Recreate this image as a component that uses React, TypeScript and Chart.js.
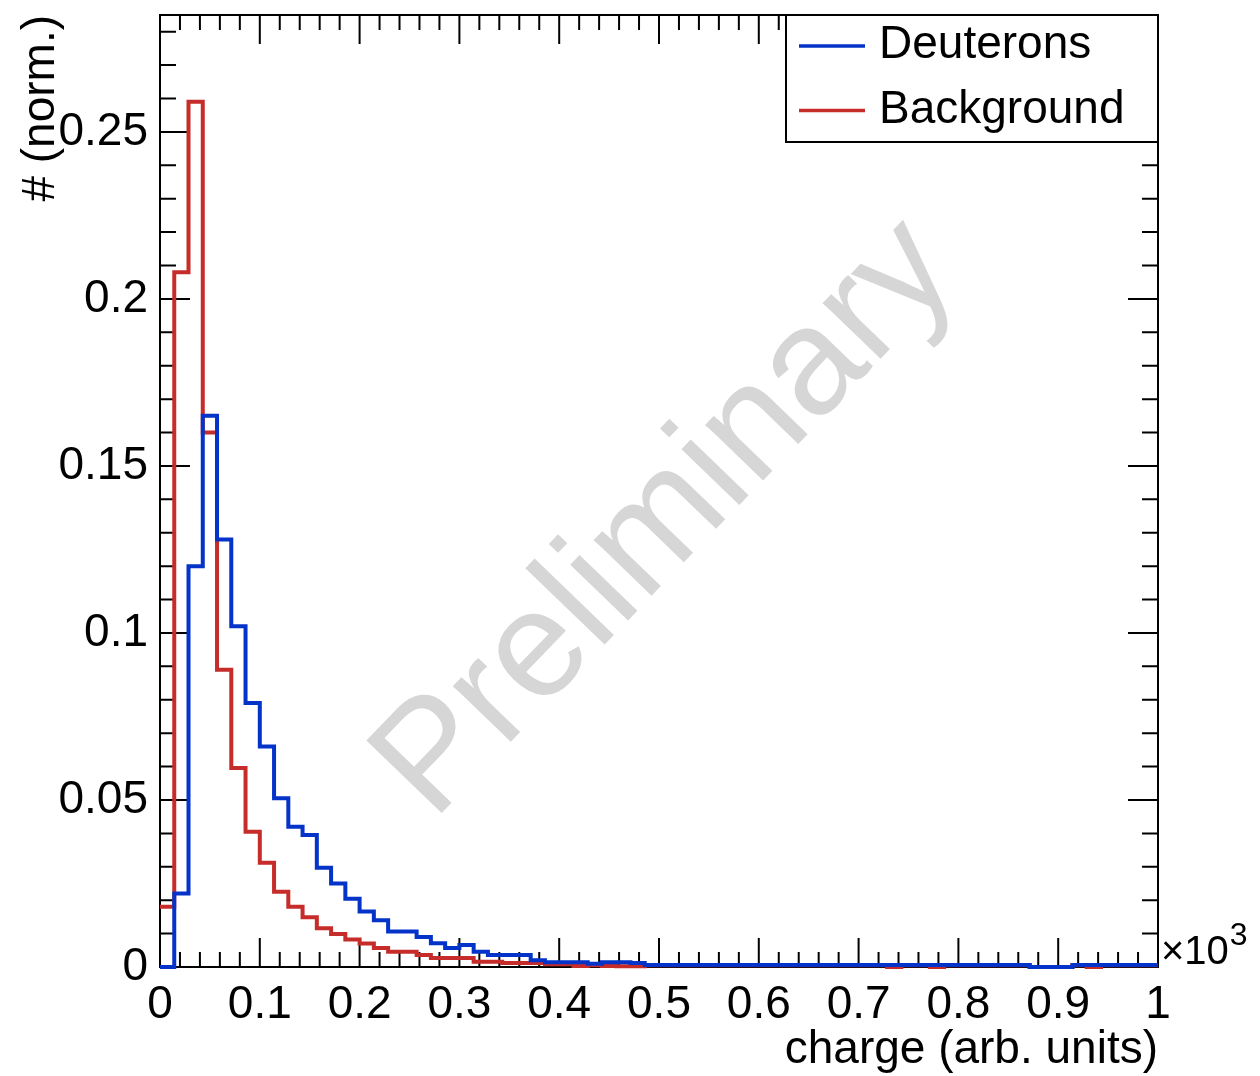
import React, { useEffect, useRef } from 'react';
import { Chart, registerables } from 'chart.js';

Chart.register(...registerables);

// ---------- data ----------
const BIN_COUNT = 70;
const X_MIN = 0;
const X_MAX = 1;
const Y_MAX = 0.285;
const X_MINOR_STEP = 0.02;
const Y_MINOR_STEP = 0.01;

const seriesLabels = ['Deuterons', 'Background'];

const deuteronValues = [
  0, 0.022, 0.12, 0.165, 0.128, 0.102, 0.079, 0.066, 0.0505, 0.042,
  0.0395, 0.0297, 0.025, 0.0204, 0.0166, 0.014, 0.0106, 0.0106, 0.009, 0.0071,
  0.0057, 0.0066, 0.0046, 0.0036, 0.0036, 0.0036, 0.002, 0.0014, 0.0014, 0.0014,
  0.001, 0.0014, 0.0014, 0.0012, 0.0006, 0.0006, 0.0006, 0.0006, 0.0006, 0.0006,
  0.0006, 0.0006, 0.0006, 0.0006, 0.0006, 0.0006, 0.0006, 0.0006, 0.0006, 0.0006,
  0.0006, 0.0006, 0.0006, 0.0006, 0.0006, 0.0006, 0.0006, 0.0006, 0.0006, 0.0006,
  0.0006, 0, 0, 0, 0.0006, 0.0006, 0.0006, 0.0006, 0.0006, 0.0006,
];

const backgroundValues = [
  0.018, 0.208, 0.259, 0.16, 0.089, 0.0596, 0.0405, 0.0312, 0.0225, 0.018,
  0.0149, 0.0116, 0.0099, 0.0082, 0.007, 0.0057, 0.0046, 0.0046, 0.0036, 0.0027,
  0.0027, 0.0027, 0.0016, 0.0016, 0.0012, 0.0012, 0.0012, 0.0008, 0.0008, 0.0003,
  0.0005, 0.0003, 0.0002, 0.0002, 0.0005, 0.0005, 0.0005, 0.0005, 0.0005, 0.0005,
  0.0005, 0.0005, 0.0005, 0.0005, 0.0005, 0.0005, 0.0005, 0.0005, 0.0005, 0.0005,
  0.0005, 0, 0.0005, 0.0005, 0, 0.0005, 0.0005, 0.0005, 0.0005, 0.0005,
  0.0005, 0, 0, 0, 0.0005, 0, 0.0005, 0.0005, 0.0005, 0.0005,
];

const xTickValues = [0, 0.1, 0.2, 0.3, 0.4, 0.5, 0.6, 0.7, 0.8, 0.9, 1];
const xTickLabels = ['0', '0.1', '0.2', '0.3', '0.4', '0.5', '0.6', '0.7', '0.8', '0.9', '1'];
const yTickValues = [0, 0.05, 0.1, 0.15, 0.2, 0.25];
const yTickLabels = ['0', '0.05', '0.1', '0.15', '0.2', '0.25'];

const xTitle = 'charge (arb. units)';
const yTitle = '# (norm.)';
const watermark = 'Preliminary';
const xExponentBase = '\u00d710';
const xExponent = '3';

// ---------- style ----------
const FONT = '"Liberation Sans", Arial, Helvetica, sans-serif';
const BLUE = '#0433c9';
const RED = '#c62d2a';

const binWidth = (X_MAX - X_MIN) / BIN_COUNT;
const toSteps = (vals: number[]) => {
  const pts = vals.map((v, i) => ({ x: X_MIN + i * binWidth, y: v }));
  pts.push({ x: X_MAX, y: vals[vals.length - 1] });
  return pts;
};

const framePlugin = {
  id: 'rootFrame',
  beforeDatasetsDraw(chart: any) {
    const { ctx, chartArea, scales } = chart;
    const { left, right, top, bottom } = chartArea;
    const x = scales.x;
    const y = scales.y;
    ctx.save();
    ctx.strokeStyle = '#000';
    ctx.lineWidth = 2;
    ctx.strokeRect(left, top, right - left, bottom - top);
    ctx.beginPath();
    const nx = Math.round((X_MAX - X_MIN) / X_MINOR_STEP);
    for (let i = 0; i <= nx; i++) {
      const px = x.getPixelForValue(X_MIN + i * X_MINOR_STEP);
      const len = i % 5 === 0 ? 29 : 15;
      ctx.moveTo(px, bottom);
      ctx.lineTo(px, bottom - len);
      ctx.moveTo(px, top);
      ctx.lineTo(px, top + len);
    }
    const ny = Math.floor(Y_MAX / Y_MINOR_STEP + 1e-6);
    for (let i = 0; i <= ny; i++) {
      const py = y.getPixelForValue(i * Y_MINOR_STEP);
      const len = i % 5 === 0 ? 30 : 16;
      ctx.moveTo(left, py);
      ctx.lineTo(left + len, py);
      ctx.moveTo(right, py);
      ctx.lineTo(right - len, py);
    }
    ctx.stroke();
    ctx.restore();
  },
  afterDatasetsDraw(chart: any) {
    const { ctx, chartArea, data } = chart;
    const { left, right, top, bottom } = chartArea;
    ctx.save();
    // watermark
    ctx.save();
    ctx.translate(left + (right - left) * 0.508, top + (bottom - top) * 0.53);
    ctx.rotate((-46 * Math.PI) / 180);
    ctx.font = `152px ${FONT}`;
    ctx.fillStyle = '#d6d6d6';
    ctx.textAlign = 'center';
    ctx.textBaseline = 'middle';
    ctx.fillText(watermark, 0, 0);
    ctx.restore();

    // x10^3
    ctx.fillStyle = '#000';
    ctx.textAlign = 'left';
    ctx.textBaseline = 'alphabetic';
    ctx.font = `40px ${FONT}`;
    ctx.fillText(xExponentBase, right + 3, bottom - 3);
    const w = ctx.measureText(xExponentBase).width;
    ctx.font = `32px ${FONT}`;
    ctx.fillText(xExponent, right + 3 + w + 1, bottom - 22);

    // legend
    const bw = 372;
    const bh = 127;
    const bx = right - bw;
    const by = top;
    ctx.fillStyle = '#fff';
    ctx.fillRect(bx, by, bw, bh);
    ctx.strokeStyle = '#000';
    ctx.lineWidth = 2;
    ctx.strokeRect(bx, by, bw, bh);
    data.datasets.forEach((ds: any, i: number) => {
      const ly = by + 31 + i * 64.5;
      ctx.strokeStyle = ds.borderColor;
      ctx.lineWidth = 3.5;
      ctx.beginPath();
      ctx.moveTo(bx + 13, ly);
      ctx.lineTo(bx + 79, ly);
      ctx.stroke();
      ctx.fillStyle = '#000';
      ctx.font = `46px ${FONT}`;
      ctx.textAlign = 'left';
      ctx.textBaseline = 'alphabetic';
      ctx.fillText(ds.label, bx + 93, ly + 12);
    });
    ctx.restore();
  },
};

export default function App() {
  const ref = useRef<HTMLCanvasElement>(null);
  useEffect(() => {
    if (!ref.current) return;
    const tickFont = { family: FONT, size: 46 };
    const chart = new Chart(ref.current, {
      type: 'line',
      data: {
        datasets: [
          {
            label: seriesLabels[0],
            data: toSteps(deuteronValues),
            borderColor: BLUE,
            backgroundColor: BLUE,
            borderWidth: 4,
            stepped: true,
            pointRadius: 0,
            fill: false,
            clip: false as any,
          },
          {
            label: seriesLabels[1],
            data: toSteps(backgroundValues),
            borderColor: RED,
            backgroundColor: RED,
            borderWidth: 4,
            stepped: true,
            pointRadius: 0,
            fill: false,
            clip: false as any,
          },
        ],
      },
      options: {
        responsive: false,
        devicePixelRatio: 1,
        animation: false,
        parsing: false as any,
        layout: { padding: { left: 0, top: 15, right: 102, bottom: 0 } },
        plugins: {
          legend: { display: false },
          tooltip: { enabled: false },
        },
        scales: {
          x: {
            type: 'linear',
            min: X_MIN,
            max: X_MAX,
            afterBuildTicks: (s: any) => {
              s.ticks = xTickValues.map((v) => ({ value: v }));
            },
            afterFit: (s: any) => {
              s.height = 109;
              s.paddingLeft = 0;
              s.paddingRight = 0;
            },
            ticks: {
              callback: (_v: any, i: number) => xTickLabels[i],
              font: tickFont,
              color: '#000',
              padding: 11,
              maxRotation: 0,
              autoSkip: false,
            },
            grid: { display: false, drawTicks: false },
            border: { display: false },
            title: {
              display: true,
              text: xTitle,
              align: 'end',
              color: '#000',
              font: tickFont,
              padding: { top: 0, bottom: -2 },
            },
          },
          y: {
            type: 'linear',
            min: 0,
            max: Y_MAX,
            afterBuildTicks: (s: any) => {
              s.ticks = yTickValues.map((v) => ({ value: v }));
            },
            afterFit: (s: any) => {
              s.width = 160;
              s.paddingTop = 0;
              s.paddingBottom = 0;
            },
            ticks: {
              callback: (_v: any, i: number) => yTickLabels[i],
              font: tickFont,
              color: '#000',
              padding: 12,
            },
            grid: { display: false, drawTicks: false },
            border: { display: false },
            title: {
              display: true,
              text: yTitle,
              align: 'end',
              color: '#000',
              font: tickFont,
              padding: { top: 14, bottom: 0 },
            },
          },
        },
      },
      plugins: [framePlugin],
    } as any);
    return () => chart.destroy();
  }, []);
  return (
    <div style={{ position: 'fixed', left: 0, top: 0, width: 1260, height: 1076, background: '#fff' }}>
      <canvas ref={ref} width={1260} height={1076} style={{ display: 'block', width: 1260, height: 1076 }} />
    </div>
  );
}
